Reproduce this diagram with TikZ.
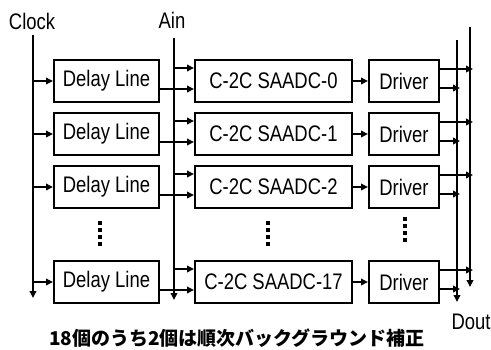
\documentclass[tikz,border=0pt]{standalone}
\usepackage{fontspec}
\setmainfont{Liberation Sans}[FakeStretch=0.82]
\newfontfamily\jpfont{Noto Sans CJK JP}
\usetikzlibrary{arrows.meta, calc}

\tikzset{
	blk/.style    = {draw, line width = 2pt, minimum height = 42pt, inner sep = 0pt, font = \fontsize{22.5}{27}\selectfont},
	dlbox/.style  = {blk, minimum width = 105pt},
	adcbox/.style = {blk, minimum width = 157pt},
	drvbox/.style = {blk, minimum width = 70pt},
	sig/.style    = {line width = 2.4pt, -{Triangle[length = 7pt, width = 6.5pt]}},
	bus/.style    = {line width = 2pt, -{Triangle[length = 7pt, width = 6.5pt]}},
	lbl/.style    = {font = \fontsize{22.5}{27}\selectfont, inner sep = 0pt},
	vdots/.style  = {line width = 4pt, dash pattern = on 3.5pt off 3.5pt}
}

\begin{document}
\begin{tikzpicture}[x = 1pt, y = -1pt]

	\useasboundingbox (0, 0) rectangle (491, 349);

	% Entradas y salidas
	\node[lbl] (lclk)  at (32, 21)  {Clock};
	\node[lbl] (lain)  at (172, 20) {Ain};
	\node[lbl] (ldout) at (471, 322) {Dout};
	\coordinate (clk)      at (33, 35);
	\coordinate (clkend)   at (33, 298);
	\coordinate (ain)      at (174, 38);
	\coordinate (ainend)   at (174, 300);
	\coordinate (doutL)    at (457, 40);
	\coordinate (doutLend) at (457, 302);
	\coordinate (doutR)    at (470, 27);
	\coordinate (doutRend) at (470, 287);

	\draw[bus] (clk)   -- (clkend);
	\draw[bus] (ain)   -- (ainend);
	\draw[bus] (doutL) -- (doutLend);
	\draw[bus] (doutR) -- (doutRend);

	% Bloques
	\node[dlbox]  (dl0)  at (106.5,  81) {Delay Line};
	\node[adcbox] (adc0) at (273.5,  81) {C-2C SAADC-0};
	\node[drvbox] (drv0) at (404,    81) {Driver};
	\node[dlbox]  (dl1)  at (106.5, 134) {Delay Line};
	\node[adcbox] (adc1) at (273.5, 134) {C-2C SAADC-1};
	\node[drvbox] (drv1) at (404,   134) {Driver};
	\node[dlbox]  (dl2)  at (106.5, 187) {Delay Line};
	\node[adcbox] (adc2) at (273.5, 187) {C-2C SAADC-2};
	\node[drvbox] (drv2) at (404,   187) {Driver};
	\node[dlbox]  (dl3)  at (106.5, 282) {Delay Line};
	\node[adcbox] (adc3) at (273.5, 282) {C-2C SAADC-17};
	\node[drvbox] (drv3) at (404,   282) {Driver};

	% Conexiones
	\draw[sig] (clk |- dl0.west) -- (dl0.west);
	\draw[sig] ($(ain |- adc0.west) + (0, -13)$) -- ($(adc0.west) + (0, -13)$);
	\draw[sig] ($(dl0.east) + (0, 8)$) -- ($(adc0.west) + (0, 8)$);
	\draw[sig] (adc0.east) -- (drv0.west);
	\draw[sig] ($(drv0.east) + (0, -12)$) -- ($(doutR |- drv0.east) + (3, -12)$);
	\draw[sig] ($(drv0.east) + (0, 7)$) -- ($(doutL |- drv0.east) + (3, 7)$);

	\draw[sig] (clk |- dl1.west) -- (dl1.west);
	\draw[sig] ($(ain |- adc1.west) + (0, -13)$) -- ($(adc1.west) + (0, -13)$);
	\draw[sig] ($(dl1.east) + (0, 8)$) -- ($(adc1.west) + (0, 8)$);
	\draw[sig] (adc1.east) -- (drv1.west);
	\draw[sig] ($(drv1.east) + (0, -12)$) -- ($(doutR |- drv1.east) + (3, -12)$);
	\draw[sig] ($(drv1.east) + (0, 7)$) -- ($(doutL |- drv1.east) + (3, 7)$);

	\draw[sig] (clk |- dl2.west) -- (dl2.west);
	\draw[sig] ($(ain |- adc2.west) + (0, -13)$) -- ($(adc2.west) + (0, -13)$);
	\draw[sig] ($(dl2.east) + (0, 8)$) -- ($(adc2.west) + (0, 8)$);
	\draw[sig] (adc2.east) -- (drv2.west);
	\draw[sig] ($(drv2.east) + (0, -12)$) -- ($(doutR |- drv2.east) + (3, -12)$);
	\draw[sig] ($(drv2.east) + (0, 7)$) -- ($(doutL |- drv2.east) + (3, 7)$);

	\draw[sig] (clk |- dl3.west) -- (dl3.west);
	\draw[sig] ($(ain |- adc3.west) + (0, -13)$) -- ($(adc3.west) + (0, -13)$);
	\draw[sig] ($(dl3.east) + (0, 8)$) -- ($(adc3.west) + (0, 8)$);
	\draw[sig] (adc3.east) -- (drv3.west);
	\draw[sig] ($(drv3.east) + (0, -12)$) -- ($(doutR |- drv3.east) + (3, -12)$);
	\draw[sig] ($(drv3.east) + (0, 7)$) -- ($(doutL |- drv3.east) + (3, 7)$);

	% Puntos suspensivos
	\draw[vdots] (100, 221) -- (100, 248);
	\draw[vdots] (268, 221) -- (268, 248);
	\draw[vdots] (405, 217) -- (405, 244);

	\node[font = \jpfont\bfseries\fontsize{19}{23}\selectfont, inner sep = 0pt] (nota) at (237, 338) {18個のうち2個は順次バックグラウンド補正};

\end{tikzpicture}
\end{document}
